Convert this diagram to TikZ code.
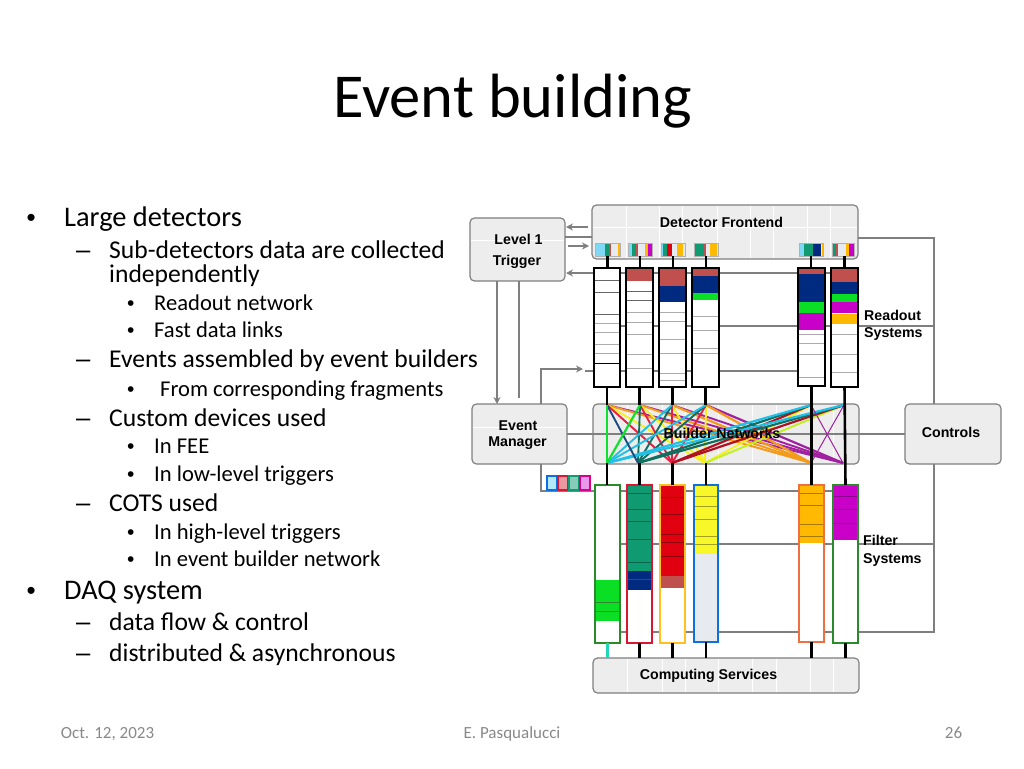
\documentclass[tikz,border=0pt]{standalone}
\usepackage{fontspec}
\setmainfont{Carlito}
\newfontfamily\arialbold[BoldFont=Liberation Sans Bold]{Liberation Sans}
\usetikzlibrary{arrows.meta}
\definecolor{boxfill}{HTML}{EDEDED}
\definecolor{busgray}{HTML}{7F7F7F}
\definecolor{footgray}{HTML}{898989}
\definecolor{cLblue}{HTML}{7FD8F5}
\definecolor{cTeal}{HTML}{0F9A72}
\definecolor{cBrick}{HTML}{C0504D}
\definecolor{cPale}{HTML}{E7EBEF}
\definecolor{cGold}{HTML}{FFB900}
\definecolor{cMag}{HTML}{C800C8}
\definecolor{cNavy}{HTML}{002A80}
\definecolor{cGreen}{HTML}{0ADF25}
\definecolor{cRed}{HTML}{E00010}
\definecolor{cYellow}{HTML}{F7F72A}
\definecolor{cCoral}{HTML}{EE7040}
\definecolor{cBlueB}{HTML}{0F6FE0}
\definecolor{cGreenB}{HTML}{2B8A2B}
\definecolor{cRedB}{HTML}{D81830}
\definecolor{cOrB}{HTML}{FFC020}
\definecolor{nGreen}{HTML}{10E030}
\definecolor{nNavy}{HTML}{1F4A80}
\definecolor{nRed}{HTML}{E62040}
\definecolor{nYellow}{HTML}{F7F020}
\definecolor{nOrange}{HTML}{F49A1A}
\definecolor{nPurple}{HTML}{A020A0}
\definecolor{nCyan}{HTML}{20C0E8}
\definecolor{nTeal}{HTML}{107060}
\definecolor{nDark}{HTML}{B01020}
\definecolor{nLime}{HTML}{C0F020}
\definecolor{nAqua}{HTML}{20D8B8}
\tikzset{
  x=1pt,y=-1pt,
  mainbox/.style={draw=busgray,fill=boxfill,line width=1.2pt,rounded corners=4.5pt},
  stackbox/.style={draw=black,fill=white,line width=1.1pt},
  filterbox/.style={draw=#1,fill=white,line width=2.4pt},
  stripbox/.style={draw=none},
  sq/.style={line width=1.8pt},
  bus/.style={draw=busgray,line width=1.25pt},
  busarrow/.style={bus,-{Stealth[length=7pt,width=7pt]}},
  sep/.style={draw=#1,line width=.6pt},
  grid/.style={draw=white,line width=.7pt},
  link/.style={draw=black,line width=2.6pt},
  net/.style={line width=1.9pt},
  netthick/.style={line width=2.2pt},
  netthin/.style={line width=1pt},
  blockfont/.style={font=\arialbold\bfseries\fontsize{14.2}{16}\selectfont,inner sep=0pt},
  title/.style={font=\fontsize{62.5}{64}\selectfont,inner sep=0pt},
  foot/.style={font=\fontsize{17}{18}\selectfont,text=footgray,inner sep=0pt,anchor=base},
  lone/.style={font=\fontsize{28.4}{30}\selectfont,inner sep=0pt,anchor=base west},
  ltwo/.style={font=\fontsize{25.6}{27}\selectfont,inner sep=0pt,anchor=base west},
  lthree/.style={font=\fontsize{22.6}{24}\selectfont,inner sep=0pt,anchor=base west},
  bulone/.style={font=\arialbold\fontsize{26}{28}\selectfont,inner sep=0pt,anchor=base west},
  bulthree/.style={font=\arialbold\fontsize{21}{23}\selectfont,inner sep=0pt,anchor=base west},
  dashmark/.style={font=\arialbold\fontsize{25.6}{27}\selectfont,inner sep=0pt,anchor=base west},
}
% name, style, x0, y0, x1, y1
\newcommand\rectnode[6]{%
  \pgfmathsetmacro\rw{#5-(#3)}\pgfmathsetmacro\rh{#6-(#4)}%
  \pgfmathsetmacro\rcx{(#3+#5)/2}\pgfmathsetmacro\rcy{(#4+#6)/2}%
  \node[#2,inner sep=0pt,outer sep=0pt,minimum width=\rw pt,minimum height=\rh pt] (#1) at (\rcx,\rcy) {};}
% name, x0, x1, segments a/b/colour
\newcommand\stripnode[4]{%
  \rectnode{#1}{stripbox}{#2}{243}{#3}{256}
  \foreach \a/\b/\c in {#4} {\fill[\c] (\a,243) rectangle (\b,256);}
  \draw[busgray!60,line width=.4pt] (#1.north west) rectangle (#1.south east);}
% name, x0, x1, y1: fill a/b/c
\newcommand\readout[5]{%
  \rectnode{#1}{stackbox}{#2}{268}{#3}{#4}
  \foreach \a/\b/\c in {#5} {\fill[\c] (#2,\a) rectangle (#3,\b);}}
\newcommand\stacklines[4]{\foreach \y in {#4} {\draw[sep=#3] (#1,\y) -- (#2,\y);}}
\begin{document}
\begin{tikzpicture}
\useasboundingbox (0,0) rectangle (1024,768);
\fill[white] (0,0) rectangle (1024,768);

% ---------- title and text
\node[title] (ttl) at (512.5,101) {Event building};
\node[foot] (fdate) at (107.5,738) {Oct. 12, 2023};
\node[foot] (fname) at (512,738) {E. Pasqualucci};
\node[foot] (fnum) at (953.5,738) {26};

\node[bulone] (b1) at (26.4,226) {•};
\node[lone] (a1) at (64,226) {Large detectors};
\node[dashmark] (d1) at (76,258) {–};
\node[ltwo] (a2) at (109,258) {Sub-detectors data are collected};
\node[ltwo] (a3) at (109,282) {independently};
\node[bulthree] (b2) at (127,310) {•};
\node[lthree] (a4) at (154,310) {Readout network};
\node[bulthree] (b3) at (127,337) {•};
\node[lthree] (a5) at (154,337) {Fast data links};
\node[dashmark] (d2) at (76,367) {–};
\node[ltwo] (a6) at (109,367) {Events assembled by event builders};
\node[bulthree] (b4) at (127,396) {•};
\node[lthree] (a7) at (160,396) {From corresponding fragments};
\node[dashmark] (d3) at (76,426) {–};
\node[ltwo] (a8) at (109,426) {Custom devices used};
\node[bulthree] (b5) at (127,453) {•};
\node[lthree] (a9) at (154,453) {In FEE};
\node[bulthree] (b6) at (127,481) {•};
\node[lthree] (a10) at (154,481) {In low-level triggers};
\node[dashmark] (d4) at (76,511) {–};
\node[ltwo] (a11) at (109,511) {COTS used};
\node[bulthree] (b7) at (127,539) {•};
\node[lthree] (a12) at (154,539) {In high-level triggers};
\node[bulthree] (b8) at (127,566) {•};
\node[lthree] (a13) at (154,566) {In event builder network};
\node[bulone] (b9) at (26.4,599) {•};
\node[lone] (a14) at (64,599) {DAQ system};
\node[dashmark] (d5) at (76,630) {–};
\node[ltwo] (a15) at (109,630) {data flow \& control};
\node[dashmark] (d6) at (76,661) {–};
\node[ltwo] (a16) at (109,661) {distributed \& asynchronous};

% ---------- main boxes
\rectnode{fe}{mainbox}{592}{205}{858}{259}
\rectnode{lone}{mainbox}{470}{218}{565}{281}
\rectnode{em}{mainbox}{472}{404}{567}{464}
\rectnode{bn}{mainbox}{593}{404}{859}{464}
\rectnode{ct}{mainbox}{905}{404}{1001}{464}
\rectnode{cs}{mainbox}{593}{658}{859}{693}
\foreach \x in {626,659,682,717,750,773,807,830} {\draw[grid] (\x,206) -- (\x,258);}
\draw[grid] (593,227) -- (857,227);
\draw[grid] (471,240) -- (564,240);
\draw[grid] (473,427) -- (566,427);
\foreach \x in {627,662,685,718,752,776,810,833} {\draw[grid] (\x,659) -- (\x,692); \draw[grid] (\x,405) -- (\x,463);}

% ---------- grey buses
\coordinate (cA) at (934,238);
\coordinate (cB) at (934,326);
\coordinate (cC) at (934,544);
\coordinate (cD) at (934,632);
\coordinate (rdA) at (566,273);
\coordinate (rdB) at (831,273);
\coordinate (rdC) at (620,326);
\coordinate (rdD) at (594,371);
\coordinate (rdE) at (825,371);
\coordinate (emA) at (541,369);
\coordinate (emB) at (583,369);
\coordinate (emC) at (541,491);
\coordinate (emD) at (858,491);
\coordinate (fiA) at (620,544);
\coordinate (fiB) at (620,632);
\coordinate (lvA) at (497,404);
\coordinate (lvB) at (519,398);
\coordinate (loA) at (588,227);
\coordinate (loB) at (566,227);
\coordinate (loC) at (592,237);
\coordinate (loD) at (565,237);
\coordinate (loE) at (568,246);
\coordinate (loF) at (589,246);
\draw[bus] (fe.east |- cA) -- (cA) -- (ct.north -| cA);
\draw[bus] (ct.south -| cD) -- (cD) -- (fiB);
\draw[bus] (rdC) -- (cB);
\draw[bus] (fiA) -- (cC);
\draw[busarrow] (rdB) -- (rdA);
\draw[bus] (rdD) -- (rdE);
\draw[bus] (rdD) -- ++(-9,0);
\draw[busarrow] (em.north -| emA) -- (emA) -- (emB);
\draw[bus] (em.south -| emC) -- (emC) -- (emD);
\draw[busarrow] (loA) -- (loB);
\draw[bus] (loD) -- (loC);
\draw[busarrow] (loE) -- (loF);
\draw[busarrow] (lone.south -| lvA) -- (lvA);
\draw[bus] (lone.south -| lvB) -- (lvB);
\draw[bus] (em.east |- 0,434) -- (ct.west |- 0,434);

% ---------- network crossbar
\coordinate (t1) at (607,405);
\coordinate (t2) at (640,405);
\coordinate (t3) at (672,405);
\coordinate (t4) at (706,405);
\coordinate (t5) at (811,405);
\coordinate (t6) at (844,405);
\coordinate (o1) at (607,463);
\coordinate (o2) at (638,463);
\coordinate (o3) at (672,463);
\coordinate (o4) at (705,463);
\coordinate (o5) at (811,463);
\coordinate (o6) at (843,463);
\foreach \s/\e/\c/\w in {
  t1/o6/nPurple/net,t2/o6/nPurple/net,t3/o6/nPurple/net,t4/o6/nPurple/netthick,
  t1/o5/nOrange/net,t2/o5/nOrange/net,t3/o5/nOrange/netthick,t4/o5/nOrange/netthick,
  t1/o4/nYellow/net,t2/o4/nYellow/net,t3/o4/nYellow/net,t4/o4/nYellow/net,t5/o4/nYellow/net,t6/o4/nLime/net,
  t1/o3/nRed/net,t2/o3/nRed/net,t3/o3/nRed/net,t4/o3/nRed/net,t5/o3/nDark/netthick,t6/o3/nDark/netthick,
  t2/o2/nTeal/net,t3/o2/nTeal/net,t4/o2/nTeal/net,t5/o2/nTeal/netthick,t6/o2/nTeal/netthick,
  t3/o1/nCyan/net,t4/o1/nCyan/net,t5/o1/nCyan/netthick,t6/o1/nCyan/netthick,
  t1/o2/nNavy/net,t1/o1/nGreen/net,t2/o1/nGreen/netthick}
  {\draw[\w,\c] (\s) -- (\e);}
\draw[netthin,nPurple] (t5) -- (o6);
\draw[netthin,nPurple] (t6) -- (o5);

% ---------- front-end strips
\stripnode{s1}{595}{620}{595/605/cLblue,605/609.3/cTeal,609.3/611/cBrick,611/618.3/cPale,618.3/620/cGold}
\stripnode{s2}{628}{652}{628/632/cLblue,632/636/cTeal,636/637.7/cBrick,637.7/645/cPale,645/647.7/cGold,647.7/652/cMag}
\stripnode{s3}{661}{685}{661/663.3/cLblue,663.3/666.7/cTeal,666.7/672.3/cRed,672.3/676.7/cPale,676.7/683.3/cGold,683.3/685/cPale}
\stripnode{s4}{694}{718}{694/704/cTeal,704/706/cBrick,706/710/cPale,710/717/cGold,717/718/cPale}
\stripnode{s5}{799}{823}{799/804/cLblue,804/813.3/cTeal,813.3/820.7/cNavy,820.7/821.7/cPale,821.7/823/cGold}
\stripnode{s6}{832}{854}{832/836/cTeal,836/837.7/cBrick,837.7/845.7/cPale,845.7/848.7/cGold,848.7/854/cMag}

% ---------- readout stacks
\readout{r1}{594}{620}{387}{}
\stacklines{594}{620}{black!60}{280,292,314}
\stacklines{594}{620}{busgray!65}{323,332,344,353}
\draw[black,line width=1.8pt] (619.5,268) -- (619.5,363);
\draw[black,line width=1pt] (594,363) -- (620,363);
\readout{r2}{626}{653}{387}{268/281/cBrick}
\stacklines{626}{653}{black!60}{291,300}
\stacklines{626}{653}{busgray!65}{312,322,334,354,368}
\draw[black,line width=1.8pt] (652.5,268) -- (652.5,300);
\readout{r3}{659}{686}{387}{268/286/cBrick,286/302/cNavy}
\stacklines{659}{686}{busgray!65}{312,321,339,353,373,380}
\readout{r4}{692}{719}{387}{268/276/cBrick,276/293/cNavy,293/300/cGreen}
\stacklines{692}{719}{busgray!65}{316,330,348,353}
\draw[black,line width=1.8pt] (718.5,300) -- (718.5,316);
\readout{r5}{798}{825}{386}{268/274/cBrick,274/302/cNavy,302/313/cGreen,313/330/cMag}
\stacklines{798}{825}{busgray!65}{334,343,354,377}
\draw[black,line width=1.8pt] (824.5,268) -- (824.5,345);
\readout{r6}{831}{858}{387}{269/282/cBrick,282/294/cNavy,294/302/cGreen,302/313/cMag,314/324/cGold}
\stacklines{831}{858}{busgray!65}{334,354,372}
\foreach \i in {1,...,6} {\draw[draw=black,line width=1.1pt] (r\i.north west) rectangle (r\i.south east);}

% ---------- filter stacks
\rectnode{f1}{filterbox=cGreenB}{595}{485}{620}{643}
\fill[cGreen] (595,580) rectangle (620,621);
\stacklines{595}{620}{cGreenB}{602,611}
\rectnode{f2}{filterbox=cRedB}{627}{485}{652}{643}
\fill[cTeal] (627,485) rectangle (652,571);
\fill[cNavy] (627,571) rectangle (652,590);
\stacklines{627}{652}{black!35!cTeal}{493,509,521,539,562,579}
\rectnode{f3}{filterbox=cOrB}{660}{485}{685}{643}
\fill[cRed] (660,485) rectangle (685,576);
\fill[cBrick] (660,576) rectangle (685,588);
\stacklines{660}{685}{black!35!cRed}{497,514,534,542,556}
\rectnode{f4}{filterbox=cBlueB}{694}{485}{718}{642}
\fill[cYellow] (694,485) rectangle (718,554);
\fill[cPale] (694,554) rectangle (718,642);
\stacklines{694}{718}{black!35!cYellow}{496,506,519,536,544}
\rectnode{f5}{filterbox=cCoral}{799}{485}{824}{642}
\fill[cGold] (799,485) rectangle (824,543);
\stacklines{799}{824}{black!35!cGold}{493,505,524,536}
\rectnode{f6}{filterbox=cGreenB}{833}{485}{858}{643}
\fill[cMag] (833,485) rectangle (858,540);
\stacklines{833}{858}{black!30!cMag}{496,509,523}
\foreach \i/\c in {1/cGreenB,2/cRedB,3/cOrB,4/cBlueB,5/cCoral,6/cGreenB} {\draw[\c,line width=2.4pt] (f\i.north west) rectangle (f\i.south east);}

% ---------- black links
\draw[link] (s1.south) -- (s1.south |- r1.north);
\draw[link] (s2.south) -- (s2.south |- r2.north);
\draw[link] (s3.south) -- (s3.south |- r3.north);
\draw[link] (s4.south) -- (s4.south |- r4.north);
\draw[link] (s5.south) -- (s5.south |- r5.north);
\draw[link] (r6.north) -- (r6.north |- s6.south);
\draw[link] (r1.south) -- (r1.south |- t1);
\draw[link] (r2.south) -- (r2.south |- t2);
\draw[link] (r3.south) -- (r3.south |- t3);
\draw[link] (r4.south) -- (r4.south |- t4);
\draw[link] (r5.south) -- (f5.north);
\draw[link] (r6.south) -- (f6.north);
\draw[link] (o1) -- (o1 |- f1.north);
\draw[link] (f2.north) -- (f2.north |- o2);
\draw[link] (f3.north) -- (f3.north |- o3);
\draw[link] (f4.north) -- (f4.north |- o4);
\draw[line width=2.4pt,nAqua] (f1.south) -- (f1.south |- cs.north);
\draw[link] (f2.south) -- (f2.south |- cs.north);
\draw[link] (f3.south) -- (f3.south |- cs.north);
\draw[link] (f4.south) -- (f4.south |- cs.north);
\draw[link] (f5.south) -- (f5.south |- cs.north);
\draw[link] (f6.south) -- (f6.south |- cs.north);

% ---------- event token
\rectnode{q1}{sq,draw=cBlueB,fill=cLblue!60}{547}{476}{557}{490}
\rectnode{q2}{sq,draw=cRedB,fill=cRedB!45}{558}{476}{568}{490}
\rectnode{q3}{sq,draw=cTeal,fill=cTeal!50}{569}{476}{579}{490}
\rectnode{q4}{sq,draw=cMag!70!red,fill=cMag!40}{580}{476}{590}{490}

% ---------- labels
\node[blockfont] (lfe) at (721.5,222) {Detector Frontend};
\node[blockfont] (ll1) at (518.5,239) {Level 1};
\node[blockfont] (ll2) at (517,261.5) {Trigger};
\node[blockfont] (lem1) at (518,425.5) {Event};
\node[blockfont] (lem2) at (517.5,443.5) {Manager};
\node[blockfont] (lbn) at (722,433) {Builder Networks};
\node[blockfont] (lct) at (951,432) {Controls};
\node[blockfont,anchor=west] (lr1) at (864,315) {Readout};
\node[blockfont,anchor=west] (lr2) at (864,334.5) {Systems};
\node[blockfont,anchor=west] (lf1) at (863,540) {Filter};
\node[blockfont,anchor=west] (lf2) at (863,560.5) {Systems};
\node[blockfont] (lcs) at (708.5,676) {Computing Services};
\end{tikzpicture}
\end{document}
